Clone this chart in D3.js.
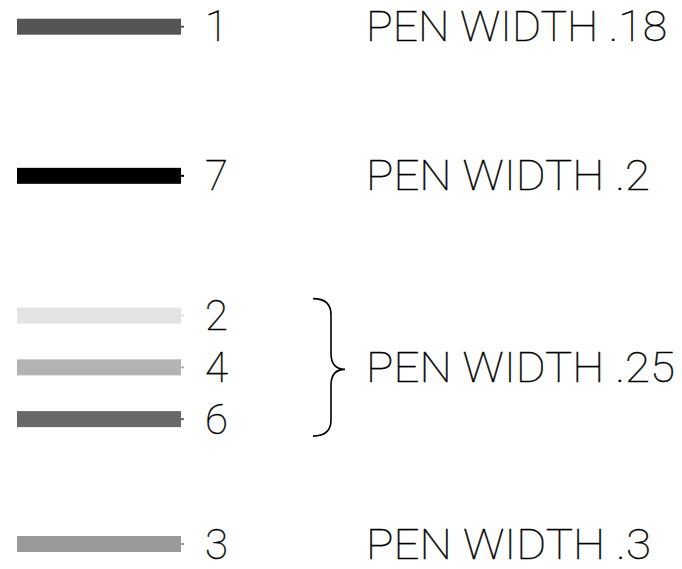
<!DOCTYPE html>
<html>
<head>
<meta charset="utf-8">
<script src="https://cdn.jsdelivr.net/npm/d3@7"></script>
<style>
  html, body { margin: 0; padding: 0; background: #fff; }
  svg { display: block; }
  text { -webkit-font-smoothing: antialiased; }
</style>
</head>
<body>
<script>
// ---- data ----
const pens = ["1", "7", "2", "4", "6", "3"];
const penShades = ["#555555", "#000000", "#e3e3e3", "#b3b3b3", "#686868", "#999999"];
const penGroups = [0, 1, 2, 2, 2, 3];
const groupLabels = ["PEN WIDTH .18", "PEN WIDTH .2", "PEN WIDTH .25", "PEN WIDTH .3"];

// ---- layout ----
const W = 682, H = 569;
const slots = [0, 2.883, 5.585, 6.585, 7.586, 10];   // vertical slot of each pen row
const y = d3.scaleLinear().domain([0, 10]).range([26.7, 544]);
const x = d3.scaleLinear().domain([0, 1]).range([17, 181]);   // bar extent
const barH = 16;
const fontFamily = "Roboto, 'Open Sans', sans-serif";
const fontSize = 42;
const labelW = {"PEN WIDTH .18": 301, "PEN WIDTH .2": 284, "PEN WIDTH .25": 309, "PEN WIDTH .3": 285};

const svg = d3.select("body").append("svg").attr("width", W).attr("height", H);

const rows = pens.map((p, i) => ({pen: p, color: penShades[i], group: penGroups[i], cy: y(slots[i])}));

// bars
svg.selectAll("rect.bar").data(rows).join("rect")
  .attr("class", "bar")
  .attr("x", x(0)).attr("width", x(1) - x(0))
  .attr("y", d => d.cy - barH / 2).attr("height", barH)
  .attr("fill", d => d.color);
// small nub at bar end
svg.selectAll("rect.nub").data(rows).join("rect")
  .attr("class", "nub")
  .attr("x", x(1)).attr("width", 3)
  .attr("y", d => d.cy - 1).attr("height", 2)
  .attr("fill", d => d.color);

// pen numbers
svg.selectAll("text.num").data(rows).join("text")
  .attr("class", "num")
  .attr("x", 205).attr("y", d => d.cy + 14.5)
  .attr("font-family", fontFamily).attr("font-weight", 100)
  .attr("font-size", fontSize).attr("fill", "#000")
  .text(d => d.pen);

// group labels (centred on the group's rows)
const groups = groupLabels.map((lab, g) => {
  const ys = rows.filter(r => r.group === g).map(r => r.cy);
  return {label: lab, cy: d3.mean(ys), top: d3.min(ys), bottom: d3.max(ys), n: ys.length};
});
svg.selectAll("text.lab").data(groups).join("text")
  .attr("class", "lab")
  .attr("x", 366).attr("y", d => d.cy + 14.5)
  .attr("font-family", fontFamily).attr("font-weight", 100)
  .attr("font-size", fontSize).attr("fill", "#000")
  .attr("stroke", "#000").attr("stroke-width", 0.4)
  .attr("textLength", d => labelW[d.label])
  .attr("lengthAdjust", "spacingAndGlyphs")
  .text(d => d.label);
svg.selectAll("text.num").attr("stroke", "#000").attr("stroke-width", 0.4);

// brace for multi-pen groups
groups.filter(g => g.n > 1).forEach(g => {
  const top = g.top - 17, bot = g.bottom + 17, mid = g.cy + 2;
  const xl = 313, xv = 331, xt = 345, r = 16;
  const p = d3.path();
  p.moveTo(xl, top);
  p.quadraticCurveTo(xv, top, xv, top + r);
  p.lineTo(xv, mid - r);
  p.quadraticCurveTo(xv, mid, xt, mid);
  p.quadraticCurveTo(xv, mid, xv, mid + r);
  p.lineTo(xv, bot - r);
  p.quadraticCurveTo(xv, bot, xl, bot);
  svg.append("path").attr("d", p.toString())
    .attr("fill", "none").attr("stroke", "#000").attr("stroke-width", 1.6);
});
</script>
</body>
</html>
